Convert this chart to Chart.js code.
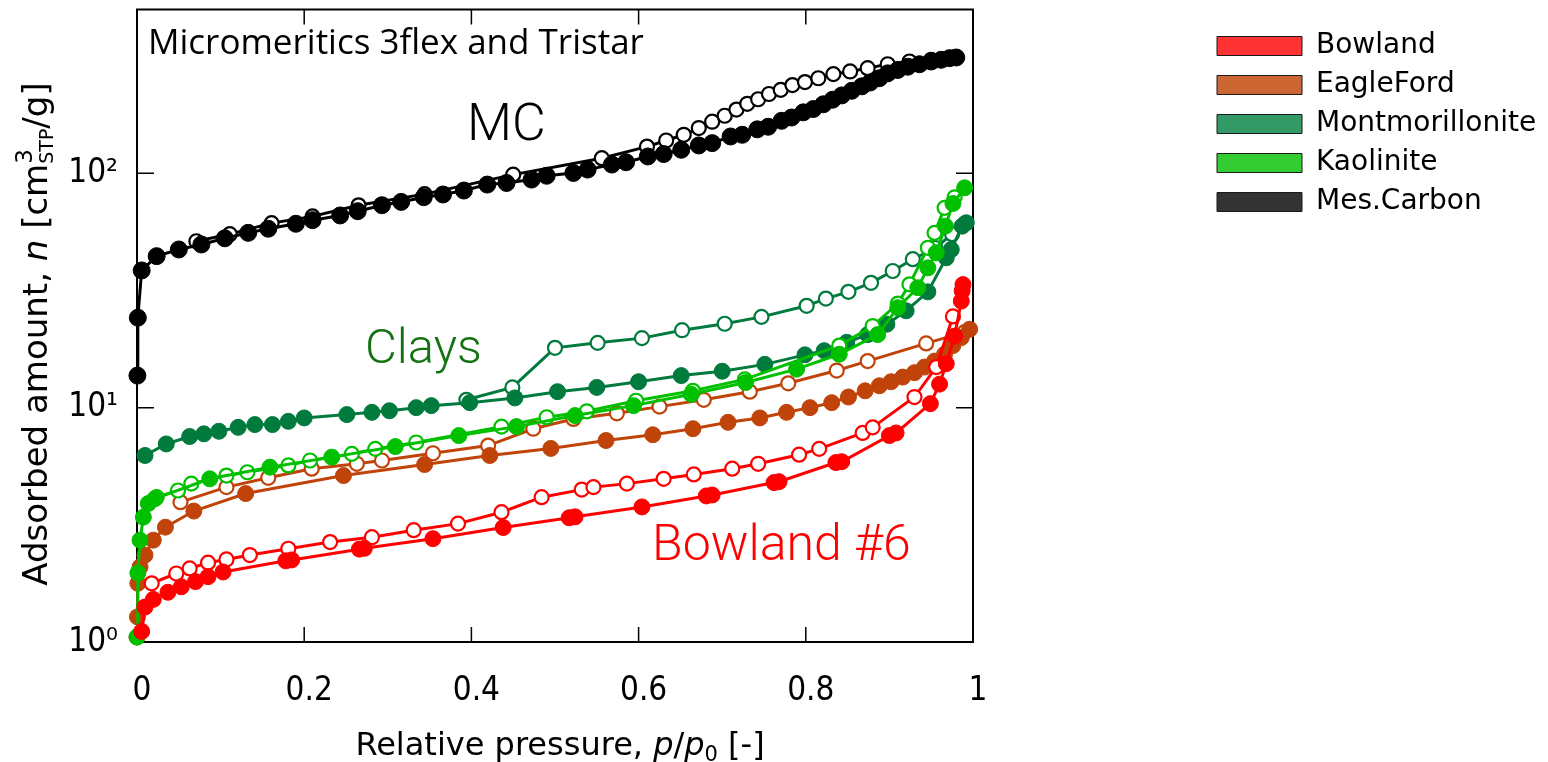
<!DOCTYPE html>
<html><head><meta charset="utf-8">
<script src="https://cdn.jsdelivr.net/npm/chart.js@4"></script>
<style>html,body{margin:0;padding:0;background:#fff;}canvas{display:block;}</style>
</head><body>
<canvas id="c" width="1548" height="762"></canvas>
<script>
// ---------------- data ----------------
// Mesoporous carbon (MC)
const mcAdsP = [0.0005,0.001,0.0056,0.0235,0.050,0.077,0.105,0.133,0.157,0.190,0.210,0.243,0.264,0.293,0.316,0.343,0.366,0.391,0.419,0.442,0.472,0.490,0.522,0.539,0.568,0.585,0.611,0.630,0.651,0.672,0.688,0.710,0.724,0.742,0.755,0.771,0.783,0.797,0.809,0.821,0.832,0.843,0.855,0.867,0.877,0.888,0.898,0.910,0.922,0.936,0.950,0.962,0.972,0.980];
const mcAdsN = [13.7,24.2,38.5,44.3,47.3,49.7,52.8,55.7,58.0,60.9,63.1,66.1,68.9,73.1,75.5,79.1,81.2,84.4,89.5,90.9,94.0,97.6,100.3,103.7,109,111.5,118,120.8,126,131.5,134.5,143.6,146,154,158,167.5,173,182,188,197,206,215,225,235,244,254.5,267,276,285,292,300,305,310,312];
const mcDesP = [0.071,0.111,0.161,0.210,0.265,0.344,0.450,0.556,0.610,0.633,0.654,0.672,0.688,0.703,0.717,0.730,0.743,0.756,0.770,0.784,0.799,0.815,0.833,0.853,0.874,0.898,0.924,0.950,0.975];
const mcDesN = [51.3,55,61.3,65.5,73,81.5,98.7,116,130,138,146,156,166,176,187,198,207,218,227,238,245,254.5,265,272,281,292,300,305,311];

// Montmorillonite
const montAdsP = [0.0096,0.035,0.063,0.080,0.098,0.121,0.141,0.162,0.181,0.200,0.251,0.281,0.302,0.334,0.352,0.398,0.452,0.503,0.550,0.600,0.651,0.700,0.751,0.799,0.822,0.849,0.874,0.897,0.920,0.946,0.968,0.974,0.987,0.992];
const montAdsN = [6.25,7.0,7.53,7.73,7.93,8.24,8.47,8.47,8.74,9.04,9.34,9.55,9.7,10.0,10.2,10.5,11.0,11.7,12.2,12.9,13.7,14.3,15.3,16.8,17.5,19.0,20.5,22.7,25.9,31.2,43.6,47.3,59.5,61.5];
const montDesP = [0.394,0.449,0.500,0.551,0.604,0.652,0.703,0.747,0.801,0.824,0.851,0.878,0.904,0.928,0.955,0.975,0.990];
const montDesN = [10.8,12.2,18.0,18.9,19.8,21.4,22.8,24.4,27.2,29.2,31.2,34.1,38.3,43.0,48,55,61];

// Kaolinite
const kaoAdsP = [0.0,0.001,0.0036,0.0076,0.0135,0.0215,0.087,0.159,0.233,0.309,0.385,0.454,0.524,0.594,0.663,0.728,0.789,0.840,0.886,0.910,0.934,0.946,0.956,0.967,0.976,0.990];
const kaoAdsN = [1.05,1.97,2.72,3.41,3.9,4.09,4.97,5.57,6.15,6.82,7.6,8.3,9.25,10.2,11.4,12.8,14.6,16.9,20.5,26.7,32.5,39.5,45.8,59.5,74.3,86.7];
const kaoDesP = [0.0235,0.049,0.065,0.107,0.132,0.181,0.207,0.257,0.285,0.334,0.436,0.490,0.538,0.597,0.665,0.727,0.840,0.880,0.910,0.924,0.946,0.954,0.966,0.978];
const kaoDesN = [4.15,4.43,4.74,5.13,5.3,5.67,5.95,6.35,6.67,7.1,8.3,9.1,9.65,10.7,11.8,13.2,18.4,22.3,27.8,33.6,48.1,55.7,71.2,79];

// Eagle Ford shale
const efAdsP = [0.0,0.0005,0.001,0.0036,0.0096,0.0195,0.034,0.068,0.130,0.247,0.344,0.422,0.495,0.561,0.617,0.665,0.707,0.745,0.777,0.805,0.831,0.851,0.871,0.888,0.902,0.916,0.930,0.942,0.954,0.966,0.976,0.986,0.996];
const efAdsN = [1.05,1.28,1.78,2.09,2.35,2.72,3.09,3.62,4.3,5.13,5.72,6.25,6.7,7.24,7.66,8.13,8.66,9.04,9.55,10.0,10.5,11.1,11.8,12.4,12.9,13.5,14.1,14.9,15.8,16.9,18.4,19.9,21.6];
const efDesP = [0.052,0.107,0.157,0.209,0.263,0.293,0.354,0.420,0.474,0.522,0.574,0.625,0.678,0.733,0.779,0.837,0.874,0.944,0.990];
const efDesN = [3.95,4.58,5.02,5.49,5.76,5.95,6.39,6.89,8.13,8.95,9.46,10.1,10.8,11.7,12.7,14.4,15.8,18.8,21.0];

// Bowland shale #6
const bowAdsP = [0.0056,0.0096,0.0195,0.037,0.053,0.070,0.085,0.103,0.178,0.185,0.266,0.272,0.354,0.438,0.517,0.524,0.604,0.681,0.688,0.762,0.768,0.836,0.843,0.900,0.908,0.949,0.960,0.968,0.978,0.986,0.987,0.988];
const bowAdsN = [1.11,1.41,1.52,1.63,1.72,1.81,1.90,1.99,2.22,2.24,2.49,2.51,2.76,3.08,3.39,3.42,3.77,4.20,4.24,4.79,4.83,5.83,5.88,7.6,7.8,10.4,12.6,15.4,20.2,28.5,31.5,33.5];
const bowDesP = [0.0176,0.047,0.063,0.085,0.107,0.135,0.181,0.231,0.281,0.331,0.384,0.436,0.484,0.532,0.546,0.586,0.630,0.666,0.712,0.743,0.792,0.816,0.868,0.880,0.930,0.956,0.976];
const bowDesN = [1.78,1.96,2.06,2.18,2.25,2.35,2.5,2.67,2.8,3.0,3.2,3.58,4.15,4.47,4.58,4.74,4.97,5.19,5.49,5.76,6.3,6.67,7.8,8.24,11.1,14.9,24.5];

// ticks and legend
const xTickValues = [0, 0.2, 0.4, 0.6, 0.8, 1];
const xTickLabels = ['0', '0.2', '0.4', '0.6', '0.8', '1'];
const yTickValues = [1, 10, 100];
const yTickLabels = ['10\u2070', '10\u00B9', '10\u00B2'];
const legendNames = ['Bowland', 'EagleFord', 'Montmorillonite', 'Kaolinite', 'Mes.Carbon'];
const legendFills = ['#ff3333', '#cc6633', '#339966', '#33cc33', '#333333'];

// ---------------- styling / layout ----------------
const COLORS = {mc:'#000000', bow:'#ff0000', kao:'#00c000', mont:'#007a3d', ef:'#c0440a'};
const W = 1548, H = 762;
const PLOT_LEFT = 137, PLOT_RIGHT = 973, PLOT_TOP = 8, PLOT_BOTTOM = 642;
const LEGEND_LEFT = 1206, LEG_FS = 28, LEG_PAD = 11, BOX_W = 85, BOX_H = 19;
const LEG_FAMILY = '"DejaVu Sans"';
const TICK_FAMILY = '"DejaVu Sans Condensed", "DejaVu Sans"';

const mctx = document.createElement('canvas').getContext('2d');
mctx.font = 'normal ' + LEG_FS + 'px ' + LEG_FAMILY;
const maxLegText = Math.max(...legendNames.map(t => mctx.measureText(t).width));
const legendWidth = LEG_PAD + BOX_W + LEG_FS / 2 + maxLegText + 10;
const padRight = W - LEGEND_LEFT - legendWidth;

function pts(P, N) { return P.map((p, i) => ({x: p, y: N[i]})); }
function adsSet(label, P, N, color, r) {
  return {label, data: pts(P, N), showLine: true, borderColor: color, backgroundColor: color,
    borderWidth: 3, pointRadius: r, pointBackgroundColor: color, pointBorderColor: color,
    pointBorderWidth: 1, clip: false};
}
function desSet(label, P, N, color) {
  return {label, data: pts(P, N), showLine: true, borderColor: color, backgroundColor: '#ffffff',
    borderWidth: 3, pointRadius: 7, pointBackgroundColor: '#ffffff', pointBorderColor: color,
    pointBorderWidth: 2.2, clip: false};
}

const datasets = [
  adsSet('Mes.Carbon ads', mcAdsP, mcAdsN, COLORS.mc, 8.5),
  desSet('Mes.Carbon des', mcDesP, mcDesN, COLORS.mc),
  adsSet('Bowland ads', bowAdsP, bowAdsN, COLORS.bow, 8),
  desSet('Bowland des', bowDesP, bowDesN, COLORS.bow),
  adsSet('Kaolinite ads', kaoAdsP, kaoAdsN, COLORS.kao, 8),
  desSet('Kaolinite des', kaoDesP, kaoDesN, COLORS.kao),
  adsSet('Montmorillonite ads', montAdsP, montAdsN, COLORS.mont, 8),
  desSet('Montmorillonite des', montDesP, montDesN, COLORS.mont),
  adsSet('EagleFord ads', efAdsP, efAdsN, COLORS.ef, 8),
  desSet('EagleFord des', efDesP, efDesN, COLORS.ef),
];

// frame + inward ticks on all four sides
const frameTicks = {
  id: 'frameTicks',
  beforeDatasetsDraw(chart) {
    const {ctx, chartArea: a, scales: {x, y}} = chart;
    ctx.save();
    ctx.strokeStyle = '#000';
    ctx.lineWidth = 1.5;
    y.ticks.forEach(t => {
      const v = t.value;
      const py = y.getPixelForValue(v);
      if (py < a.top + 2 || py > a.bottom - 2) return;
      const lg = Math.log10(v);
      const major = Math.abs(lg - Math.round(lg)) < 1e-9;
      const len = major ? 17 : 9;
      ctx.beginPath();
      ctx.moveTo(a.left, py); ctx.lineTo(a.left + len, py);
      ctx.moveTo(a.right, py); ctx.lineTo(a.right - len, py);
      ctx.stroke();
    });
    x.ticks.forEach(t => {
      const px = x.getPixelForValue(t.value);
      if (px < a.left + 2 || px > a.right - 2) return;
      ctx.beginPath();
      ctx.moveTo(px, a.bottom); ctx.lineTo(px, a.bottom - 15);
      ctx.moveTo(px, a.top); ctx.lineTo(px, a.top + 15);
      ctx.stroke();
    });
    ctx.lineWidth = 2;
    ctx.strokeRect(a.left, a.top, a.right - a.left, a.bottom - a.top);
    ctx.restore();
  }
};

function drawRich(ctx, runs, cx, cy, angle) {
  ctx.save();
  ctx.translate(cx, cy);
  ctx.rotate(angle);
  ctx.fillStyle = '#000';
  ctx.textBaseline = 'alphabetic';
  ctx.textAlign = 'left';
  const widths = runs.map(r => {
    ctx.font = r.font;
    if (r.sup !== undefined) {
      const ws = ctx.measureText(r.sub).width;
      ctx.font = r.supFont;
      return Math.max(ctx.measureText(r.sup).width, ws);
    }
    return ctx.measureText(r.t).width;
  });
  const total = widths.reduce((s, w) => s + w, 0);
  let x = -total / 2;
  runs.forEach((r, i) => {
    ctx.font = r.font;
    if (r.sup !== undefined) {
      ctx.font = r.supFont; ctx.fillText(r.sup, x, r.supDy);
      ctx.font = r.font; ctx.fillText(r.sub, x, r.subDy);
    } else {
      ctx.fillText(r.t, x, r.dy || 0);
    }
    x += widths[i];
  });
  ctx.restore();
}

const annotations = [
  {text: 'Micromeritics 3flex and Tristar', font: 'normal 400 35px "Open Sans"', color: '#000', px: 148, py: 54},
  {text: 'MC', font: 'normal 300 52px Roboto', color: '#000', px: 467, py: 140},
  {text: 'Clays', font: 'normal 300 49px Roboto', color: '#137313', px: 365, py: 363},
  {text: 'Bowland #6', font: 'normal 300 50px Roboto', color: '#ff0000', px: 652, py: 560},
];

const textsPlugin = {
  id: 'texts',
  afterDraw(chart) {
    const {ctx, chartArea: a} = chart;
    ctx.save();
    ctx.textBaseline = 'alphabetic';
    ctx.textAlign = 'left';
    annotations.forEach(an => {
      ctx.font = an.font; ctx.fillStyle = an.color;
      ctx.fillText(an.text, an.px, an.py);
    });
    ctx.restore();
    // x-axis title
    const fx = '32px "DejaVu Sans"', fxi = 'italic 32px "DejaVu Sans"', fxs = '21px "DejaVu Sans"';
    drawRich(ctx, [
      {t: 'Relative pressure, ', font: fx},
      {t: 'p', font: fxi},
      {t: '/', font: fx},
      {t: 'p', font: fxi},
      {t: '0', font: fxs, dy: 6},
      {t: ' [-]', font: fx},
    ], (a.left + a.right) / 2 + 5, 755, 0);
    // y-axis title
    const fy = '34px "DejaVu Sans"', fyi = 'italic 34px "DejaVu Sans"', fys = '19px "DejaVu Sans"', fyp = '23px "DejaVu Sans"';
    drawRich(ctx, [
      {t: 'Adsorbed amount, ', font: fy},
      {t: 'n', font: fyi},
      {t: ' [cm', font: fy},
      {sup: '3', sub: 'STP', supFont: fyp, font: fys, supDy: -15, subDy: 6},
      {t: '/g]', font: fy},
    ], 47, 334, -Math.PI / 2);
  }
};

new Chart(document.getElementById('c'), {
  type: 'scatter',
  data: {datasets},
  options: {
    responsive: false,
    devicePixelRatio: 1,
    animation: false,
    events: [],
    layout: {padding: {left: 0, top: PLOT_TOP, bottom: 0, right: padRight}},
    scales: {
      x: {
        type: 'linear', position: 'bottom', min: 0, max: 1,
        afterBuildTicks(s) { s.ticks = xTickValues.map(v => ({value: v})); },
        ticks: {
          callback: (v) => { const i = xTickValues.findIndex(t => Math.abs(t - v) < 1e-9); return i >= 0 ? xTickLabels[i] : null; },
          font: {family: TICK_FAMILY, size: 33}, color: '#000', padding: 30, labelOffset: 5, maxRotation: 0, autoSkip: false
        },
        grid: {display: false, drawTicks: false},
        border: {display: false},
        afterFit(s) { s.height = H - PLOT_BOTTOM; }
      },
      y: {
        type: 'logarithmic', position: 'left', min: 1, max: 500,
        ticks: {
          callback: (v) => { const i = yTickValues.findIndex(t => Math.abs(t - v) < 1e-9); return i >= 0 ? yTickLabels[i] : null; },
          font: {family: TICK_FAMILY, size: 33, lineHeight: 0.3}, color: '#000', padding: 0, autoSkip: false
        },
        grid: {display: false, drawTicks: true, tickLength: 19},
        border: {display: false},
        afterFit(s) { s.width = PLOT_LEFT; }
      },
      gap: {
        type: 'linear', position: 'right', display: true,
        ticks: {display: false}, grid: {display: false, drawTicks: false}, border: {display: false},
        afterFit(s) { s.width = LEGEND_LEFT - PLOT_RIGHT; }
      }
    },
    plugins: {
      tooltip: {enabled: false},
      legend: {
        display: true, position: 'right', align: 'start', maxWidth: 600,
        title: {display: true, text: ' ', font: {size: 10}, padding: {top: 0, bottom: 1}},
        labels: {
          boxWidth: BOX_W, boxHeight: BOX_H, padding: LEG_PAD, color: '#000',
          font: {family: LEG_FAMILY, size: LEG_FS},
          generateLabels: () => legendNames.map((t, i) => ({
            text: t, fillStyle: legendFills[i], strokeStyle: '#1a1a1a', lineWidth: 1,
            hidden: false, fontColor: '#000'
          }))
        }
      }
    }
  },
  plugins: [frameTicks, textsPlugin]
});
</script>
</body></html>
